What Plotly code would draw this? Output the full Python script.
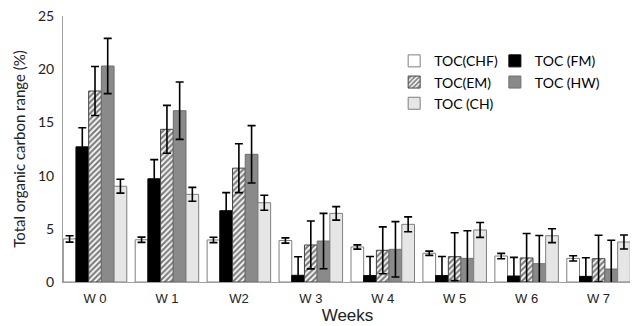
import plotly.graph_objects as go

weeks = ["W 0", "W 1", "W2", "W 3", "W 4", "W 5", "W 6", "W 7"]
x_pos = list(range(len(weeks)))

toc_chf = [4.05, 3.97, 3.95, 3.9, 3.29, 2.7, 2.44, 2.22]
toc_chf_err = [0.3, 0.25, 0.25, 0.25, 0.2, 0.2, 0.25, 0.25]
toc_fm = [12.7, 9.7, 6.7, 0.63, 0.6, 0.6, 0.56, 0.53]
toc_fm_err = [1.8, 1.8, 1.7, 1.75, 1.8, 1.8, 1.75, 1.75]
toc_em = [17.95, 14.35, 10.7, 3.48, 2.98, 2.38, 2.26, 2.19]
toc_em_err = [2.3, 2.25, 2.3, 2.25, 2.2, 2.25, 2.3, 2.2]
toc_hw = [20.3, 16.1, 12.0, 3.85, 3.07, 2.22, 1.72, 1.22]
toc_hw_err = [2.6, 2.7, 2.7, 2.6, 2.6, 2.6, 2.65, 2.7]
toc_ch = [9.0, 8.24, 7.45, 6.45, 5.42, 4.89, 4.35, 3.76]
toc_ch_err = [0.65, 0.65, 0.7, 0.63, 0.7, 0.7, 0.65, 0.66]

err_style = dict(type="data", visible=True, color="black", thickness=1.6, width=4)

fig = go.Figure()

def add(name, y, err, fill, line, legend, pattern=None):
    marker = dict(color=fill, line=dict(color=line, width=1))
    if pattern:
        marker["pattern"] = pattern
    fig.add_trace(go.Bar(
        x=x_pos, y=y, name=name, marker=marker,
        error_y=dict(array=err, **err_style), legend=legend,
    ))

add("TOC(CHF)", toc_chf, toc_chf_err, "white", "#7f7f7f", "legend")
add("TOC (FM)", toc_fm, toc_fm_err, "black", "black", "legend2")
add("TOC(EM)", toc_em, toc_em_err, "white", "#444444", "legend",
    pattern=dict(shape="/", fgcolor="black", bgcolor="white", size=4, solidity=0.55))
add("TOC (HW)", toc_hw, toc_hw_err, "#8a8a8a", "#6e6e6e", "legend2")
add("TOC (CH)", toc_ch, toc_ch_err, "#e6e6e6", "#7f7f7f", "legend")

legend_common = dict(
    bgcolor="rgba(0,0,0,0)", borderwidth=0,
    font=dict(family="Lato", size=14, color="black"),
    xanchor="left", yanchor="top", orientation="v",
    tracegroupgap=0, itemwidth=30,
)

# The page body has an 8px margin, so the figure is sized to fill the rest.
fig.update_layout(
    width=630, height=318,
    margin=dict(l=55, r=6, t=8, b=44),
    paper_bgcolor="white", plot_bgcolor="white",
    barmode="group", bargap=0.117, bargroupgap=0,
    showlegend=True,
    legend=dict(x=0.582, y=0.89, **legend_common),
    legend2=dict(x=0.759, y=0.89, **legend_common),
    xaxis=dict(
        tickmode="array", tickvals=x_pos, ticktext=weeks,
        range=[-0.445, 7.465], automargin=False,
        showline=True, linecolor="#a0a0a0", linewidth=1,
        ticks="", showgrid=False, zeroline=False,
        ticklabelstandoff=4,
        tickfont=dict(family="Liberation Sans", size=13, color="#222"),
        title=dict(text="Weeks", font=dict(family="Liberation Sans", size=17, color="#222"), standoff=4),
    ),
    yaxis=dict(
        range=[0, 25], tickvals=[0, 5, 10, 15, 20, 25], automargin=False,
        ticklabeloverflow="allow",
        showline=True, linecolor="#a0a0a0", linewidth=1,
        ticks="", showgrid=False, zeroline=False,
        ticklabelstandoff=5,
        tickfont=dict(family="Lato", size=14, color="#222"),
        title=dict(text="Total organic carbon range (%)", font=dict(family="Lato", size=15, color="#222"), standoff=8),
    ),
)

fig.write_html("out.html")
